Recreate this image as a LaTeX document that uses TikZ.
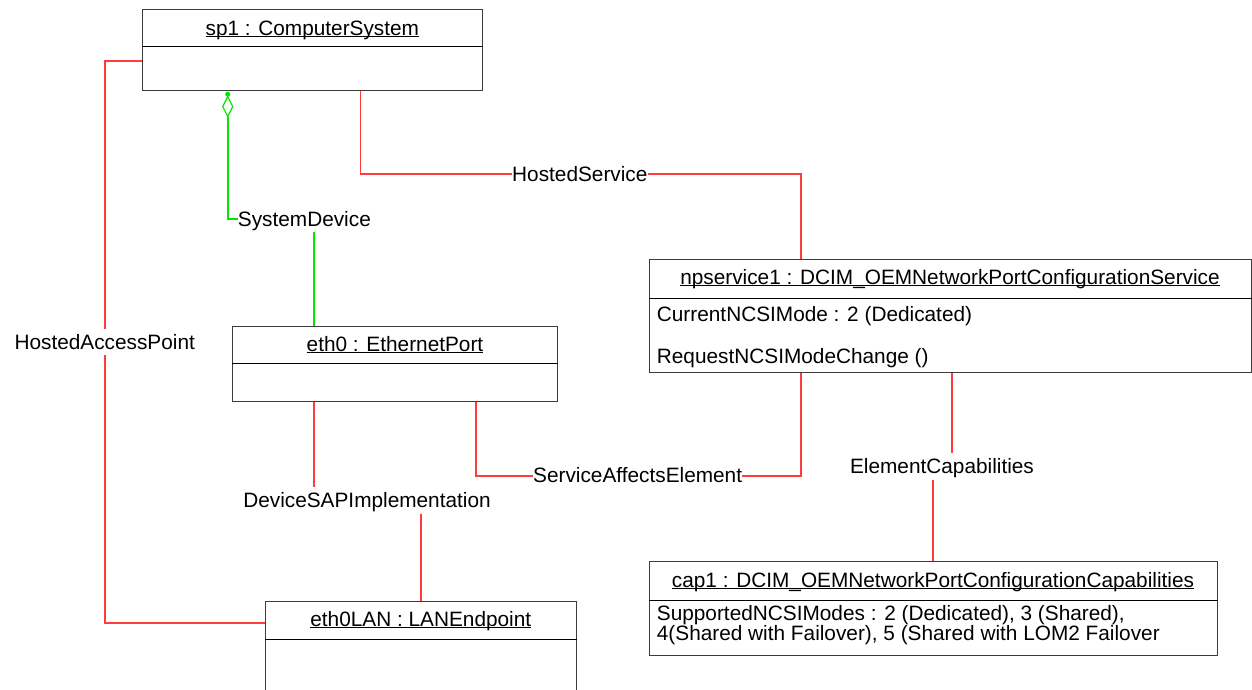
\documentclass[tikz,border=0pt]{standalone}
\usepackage{fontspec}
\setmainfont{Liberation Sans}
\usetikzlibrary{calc}
\newcommand{\ulin}[1]{\setbox0\hbox{#1}\rlap{\rule[-1.8pt]{\wd0}{1pt}}\box0}
\definecolor{assocred}{RGB}{255,60,60}
\definecolor{aggrgreen}{RGB}{0,230,0}
\definecolor{boxline}{RGB}{60,60,60}
\begin{document}
\begin{tikzpicture}[x=1pt,y=-1pt,
  font=\fontsize{20.8pt}{16pt}\selectfont,
  box/.style={draw=boxline, line width=1pt, inner sep=0pt},
  divider/.style={draw=black, line width=1pt},
  ttl/.style={inner sep=0pt, anchor=base},
  attr/.style={inner sep=0pt, anchor=base west},
  lbl/.style={inner xsep=0pt, inner ysep=5pt, text height=14.9pt, text depth=1pt, anchor=base},
  lblw/.style={lbl, anchor=base west},
  assoc/.style={draw=assocred, line width=1.8pt},
  aggr/.style={draw=aggrgreen, line width=1.8pt}]
\clip (0,0) rectangle (1252,689);

% boxes
\node[box, minimum width=339.3pt, minimum height=80.7pt] (sp1) at (312.35,49.65) {};
\draw[divider] ($(sp1.north west)+(0,38)$) -- ($(sp1.north east)+(0,38)$);
\node[box, minimum width=324.6pt, minimum height=75pt] (eth0) at (395,363.5) {};
\draw[divider] ($(eth0.north west)+(0,37.7)$) -- ($(eth0.north east)+(0,37.7)$);
\node[box, minimum width=311pt, minimum height=160pt] (lan) at (420.8,681.3) {};
\draw[divider] ($(lan.north west)+(0,39)$) -- ($(lan.north east)+(0,39)$);
\node[box, minimum width=602pt, minimum height=113.2pt] (nps) at (950,316.1) {};
\draw[divider] ($(nps.north west)+(0,39.5)$) -- ($(nps.north east)+(0,39.5)$);
\node[box, minimum width=568pt, minimum height=94.3pt] (cap1) at (933,608.15) {};
\draw[divider] ($(cap1.north west)+(0,39.7)$) -- ($(cap1.north east)+(0,39.7)$);

% titles and members
\node[ttl] (sp1t) at (312.35,35.3) {\ulin{sp1 : ComputerSystem}};
\node[ttl] (eth0t) at (395,351) {\ulin{eth0 : EthernetPort}};
\node[ttl] (lant) at (420.8,626) {\ulin{eth0LAN : LANEndpoint}};
\node[ttl] (npst) at (950,284.3) {\ulin{npservice1 : DCIM\_OEMNetworkPortConfigurationService}};
\node[ttl] (capt) at (933,587.5) {\ulin{cap1 : DCIM\_OEMNetworkPortConfigurationCapabilities}};
\node[attr] (npsa) at (656.7,321.3) {CurrentNCSIMode : 2 (Dedicated)};
\node[attr] (npso) at (656.7,363.3) {RequestNCSIModeChange ()};
\node[attr] (capa1) at (656.7,620.5) {SupportedNCSIModes : 2 (Dedicated), 3 (Shared),};
\node[attr] (capa2) at (656.7,640.5) {4(Shared with Failover), 5 (Shared with LOM2 Failover};

% association labels
\node[lbl] (hap) at (104.7,349) {HostedAccessPoint};
\node[lblw] (sd) at (237.7,226) {SystemDevice};
\node[lblw] (hs) at (512,181) {HostedService};
\node[lblw] (sae) at (533,482.7) {ServiceAffectsElement};
\node[lbl] (dsap) at (367,507.3) {DeviceSAPImplementation};
\node[lbl] (ec) at (942,473.3) {ElementCapabilities};

% attachment points
\coordinate (hapa) at ($(sp1.north west)+(0,52)$);
\coordinate (hapb) at ($(lan.north west)+(0,22.4)$);
\coordinate (agg) at ($(sp1.south)+(-84.65,0)$);
\coordinate (sdb) at ($(eth0.north west)+(81.6,0)$);
\coordinate (hsa) at ($(sp1.south)+(48.2,0)$);
\coordinate (hsb) at ($(nps.north)+(-149.3,0)$);
\coordinate (saea) at ($(eth0.south)+(81.3,0)$);
\coordinate (saeb) at ($(nps.south)+(-149.3,0)$);
\coordinate (dsa) at ($(eth0.south)+(-81.3,0)$);
\coordinate (eca) at ($(nps.south)+(2,0)$);

% HostedAccessPoint
\draw[assoc] (hapa) -| (hap.north);
\draw[assoc] (hap.south) |- (hapb);
% SystemDevice (aggregation)
\fill[aggrgreen] ($(agg)+(0,3.7)$) circle (2.5pt);
\draw[aggr, line width=1.2pt] ($(agg)+(0,6)$) -- ++(5,10) -- ++(-5,10) -- ++(-5,-10) -- cycle;
\draw[aggr] ($(agg)+(0,26)$) |- (sd.west);
\draw[aggr] (sdb |- sd.south) -- (sdb);
% HostedService
\draw[assoc] (hsa) |- (hs.west);
\draw[assoc] (hs.east) -| (hsb);
% ServiceAffectsElement
\draw[assoc] (saea) |- (sae.west);
\draw[assoc] (sae.east) -| (saeb);
% DeviceSAPImplementation
\draw[assoc] (dsa) -- (dsa |- dsap.north);
\draw[assoc] (dsap.south -| lan.north) -- (lan.north);
% ElementCapabilities
\draw[assoc] (eca) -- (eca |- ec.north);
\draw[assoc] (ec.south -| cap1.north) -- (cap1.north);
\end{tikzpicture}
\end{document}
